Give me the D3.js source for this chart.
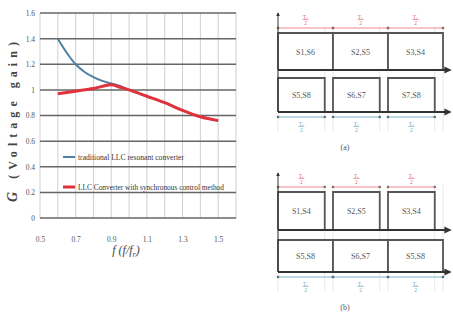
<!DOCTYPE html>
<html>
<head>
<meta charset="utf-8">
<script src="https://cdn.jsdelivr.net/npm/d3@7"></script>
<style>
  body { margin: 0; background: #fff; }
</style>
</head>
<body>
<div id="chart"></div>
<script>
// ---- gain curve data ----
const freqTicks = [0.5, 0.7, 0.9, 1.1, 1.3, 1.5];
const gainTicks = [0, 0.2, 0.4, 0.6, 0.8, 1, 1.2, 1.4, 1.6];

const freqTrad = [0.6, 0.65, 0.7, 0.75, 0.8, 0.85, 0.9, 0.95, 1.0, 1.1, 1.2, 1.3, 1.4, 1.5];
const gainTrad = [1.40, 1.29, 1.20, 1.14, 1.10, 1.07, 1.05, 1.03, 1.00, 0.95, 0.90, 0.84, 0.79, 0.76];

const freqSync = [0.6, 0.7, 0.8, 0.9, 0.95, 1.0, 1.1, 1.2, 1.3, 1.4, 1.5];
const gainSync = [0.97, 0.99, 1.01, 1.04, 1.02, 1.00, 0.95, 0.90, 0.84, 0.79, 0.76];

const seriesNames = ["traditional LLC resonant converter", "LLC Converter with synchronous control method"];

// ---- timing diagram data ----
const slotStarts = [0, 1, 2];       // in units of Ts/2
const fullLen = 1;
const shortLen = 0.85;
const labelsATop = ["S1,S6", "S2,S5", "S3,S4"];
const labelsABot = ["S5,S8", "S6,S7", "S7,S8"];
const labelsBTop = ["S1,S4", "S2,S5", "S3,S4"];
const labelsBBot = ["S5,S8", "S6,S7", "S5,S8"];
const panelNames = ["(a)", "(b)"];

const W = 453, H = 320;
const svg = d3.select("#chart").append("svg")
    .attr("width", W)
    .attr("height", H)
    .style("font-family", "'Liberation Serif', serif");

// ================= left chart =================
const x = d3.scaleLinear().domain([0.5, 1.6]).range([40, 236]);
const y = d3.scaleLinear().domain([0, 1.6]).range([218, 13]);

const grid = svg.append("g");
grid.selectAll("line.v")
    .data(x.ticks(11))
    .enter().append("line")
    .attr("x1", d => x(d)).attr("x2", d => x(d))
    .attr("y1", y(1.6)).attr("y2", y(0))
    .attr("stroke", "#cfcfcf").attr("stroke-width", 1);
grid.selectAll("line.h")
    .data(gainTicks)
    .enter().append("line")
    .attr("x1", x(0.5)).attr("x2", x(1.6))
    .attr("y1", d => y(d)).attr("y2", d => y(d))
    .attr("stroke", "#666").attr("stroke-width", 1.5);

const yAxis = svg.append("g")
    .attr("transform", "translate(40,0)")
    .call(d3.axisLeft(y).tickValues(gainTicks).tickFormat(d3.format("")).tickSize(0).tickPadding(5));
yAxis.select(".domain").remove();
yAxis.selectAll("text").attr("fill", "#555").style("font-size", "7.5px")
    .style("font-family", "'Liberation Serif', serif");

const xAxis = svg.append("g")
    .attr("transform", "translate(0,218)")
    .call(d3.axisBottom(x).tickValues(freqTicks).tickFormat(d3.format("")).tickSize(0).tickPadding(19));
xAxis.select(".domain").remove();
xAxis.selectAll("text").attr("fill", "#555").style("font-size", "7.5px")
    .style("font-family", "'Liberation Serif', serif");

const line = d3.line()
    .x(d => x(d[0]))
    .y(d => y(d[1]))
    .curve(d3.curveMonotoneX);

svg.append("path")
    .datum(d3.zip(freqTrad, gainTrad))
    .attr("d", line)
    .attr("fill", "none")
    .attr("stroke", "#4f7fa3")
    .attr("stroke-width", 2);
svg.append("path")
    .datum(d3.zip(freqSync, gainSync))
    .attr("d", line)
    .attr("fill", "none")
    .attr("stroke", "#e0313c")
    .attr("stroke-width", 3);

// legend
const legend = svg.append("g");
const legColors = ["#4f7fa3", "#e0313c"];
const legWidths = [2, 3];
const legY = [157, 187];
const legLen = [106, 146];
seriesNames.forEach((name, i) => {
    legend.append("line")
        .attr("x1", 63).attr("x2", 75)
        .attr("y1", legY[i]).attr("y2", legY[i])
        .attr("stroke", legColors[i]).attr("stroke-width", legWidths[i]);
    legend.append("text")
        .attr("x", 78).attr("y", legY[i] + 2.5)
        .attr("textLength", legLen[i])
        .attr("lengthAdjust", "spacingAndGlyphs")
        .attr("fill", "#333")
        .style("font-size", "7.5px")
        .text(name);
});

// axis titles
const yTitle = svg.append("text")
    .attr("transform", "translate(17,122) rotate(-90)")
    .attr("text-anchor", "middle")
    .attr("textLength", 160)
    .attr("fill", "#444")
    .style("font-size", "12px")
    .style("font-weight", "bold");
yTitle.append("tspan").style("font-style", "italic").style("font-size", "14px").text("G");
yTitle.append("tspan").text(" (Voltage gain)");

const xTitle = svg.append("text")
    .attr("x", 126).attr("y", 254)
    .attr("text-anchor", "middle")
    .attr("fill", "#444")
    .style("font-size", "12px")
    .style("font-style", "italic");
xTitle.append("tspan").text("f (f/f");
xTitle.append("tspan").attr("dy", 3).style("font-size", "8px").text("r");
xTitle.append("tspan").attr("dy", -3).text(")");

// ================= timing diagrams =================
const t = d3.scaleLinear().domain([0, 3]).range([278, 443]);
const tEnd = 3.13;

const defs = svg.append("defs");
defs.append("marker")
    .attr("id", "arr")
    .attr("viewBox", "0 0 10 10")
    .attr("refX", 8).attr("refY", 5)
    .attr("markerWidth", 4).attr("markerHeight", 4)
    .attr("orient", "auto-start-reverse")
    .append("path").attr("d", "M0,0 L10,5 L0,10 z").attr("fill", "#333");

const panels = [
    { top: labelsATop, bot: labelsABot, topLen: fullLen, botLen: shortLen,
      yArrow: 13, yDimTop: 28, yTop1: 33, yAx1: 70, yTop2: 78, yAx2: 112, yDimBot: 117, yCap: 150 },
    { top: labelsBTop, bot: labelsBBot, topLen: shortLen, botLen: fullLen,
      yArrow: 173, yDimTop: 187, yTop1: 192, yAx1: 230, yTop2: 240, yAx2: 272, yDimBot: 277, yCap: 310 }
];

function fraction(g, cx, yTop, color) {
    g.append("text").attr("x", cx).attr("y", yTop + 4.5)
        .attr("text-anchor", "middle").attr("fill", color)
        .style("font-size", "5.5px").text("T\u209B");
    g.append("line").attr("x1", cx - 3).attr("x2", cx + 3)
        .attr("y1", yTop + 5.5).attr("y2", yTop + 5.5)
        .attr("stroke", color).attr("stroke-width", 0.6);
    g.append("text").attr("x", cx).attr("y", yTop + 10.5)
        .attr("text-anchor", "middle").attr("fill", color)
        .style("font-size", "5.5px").text("2");
}

panels.forEach((p, pi) => {
    const g = svg.append("g");

    // faint guide lines at slot edges
    const edges = [];
    slotStarts.forEach(s => { edges.push(s); edges.push(s + shortLen); });
    edges.push(3);
    g.selectAll("line.guide")
        .data(edges)
        .enter().append("line")
        .attr("x1", d => t(d)).attr("x2", d => t(d))
        .attr("y1", p.yDimTop - 2).attr("y2", p.yDimBot + 14)
        .attr("stroke", "#dcdcdc").attr("stroke-width", 0.7);

    // top dimension (red)
    slotStarts.forEach(s => {
        g.append("line")
            .attr("x1", t(s)).attr("x2", t(s + p.topLen))
            .attr("y1", p.yDimTop).attr("y2", p.yDimTop)
            .attr("stroke", "#ef8a8f").attr("stroke-width", 1.2);
        [s, s + p.topLen].forEach(e => g.append("circle")
            .attr("cx", t(e)).attr("cy", p.yDimTop).attr("r", 1.3).attr("fill", "#8a6a6a"));
        fraction(g, t(s + p.topLen / 2), p.yDimTop - 14, "#e06a70");
    });

    // boxes row 1 and row 2
    const rows = [
        { labels: p.top, len: p.topLen, yTop: p.yTop1, yAx: p.yAx1 },
        { labels: p.bot, len: p.botLen, yTop: p.yTop2, yAx: p.yAx2 }
    ];
    rows.forEach(r => {
        g.selectAll(null)
            .data(slotStarts)
            .enter().append("path")
            .attr("d", s => `M${t(s)},${r.yAx} V${r.yTop} H${t(s + r.len)} V${r.yAx}`)
            .attr("fill", "#fff")
            .attr("stroke", "#555")
            .attr("stroke-width", 1.8);
        g.selectAll(null)
            .data(slotStarts)
            .enter().append("text")
            .attr("x", (s, i) => t(s + r.len / 2))
            .attr("y", (r.yTop + r.yAx) / 2 + 3)
            .attr("text-anchor", "middle")
            .attr("fill", "#555")
            .style("font-size", "8px")
            .text((s, i) => r.labels[i]);
        g.append("line")
            .attr("x1", t(0)).attr("x2", t(tEnd))
            .attr("y1", r.yAx).attr("y2", r.yAx)
            .attr("stroke", "#333").attr("stroke-width", 1.8)
            .attr("marker-end", "url(#arr)");
    });

    // vertical axis
    g.append("line")
        .attr("x1", t(0)).attr("x2", t(0))
        .attr("y1", p.yAx2).attr("y2", p.yArrow)
        .attr("stroke", "#333").attr("stroke-width", 1)
        .attr("marker-end", "url(#arr)");

    // bottom dimension (blue)
    slotStarts.forEach(s => {
        g.append("line")
            .attr("x1", t(s)).attr("x2", t(s + p.botLen))
            .attr("y1", p.yDimBot).attr("y2", p.yDimBot)
            .attr("stroke", "#7fb3c8").attr("stroke-width", 1.2);
        [s, s + p.botLen].forEach(e => g.append("circle")
            .attr("cx", t(e)).attr("cy", p.yDimBot).attr("r", 1.3).attr("fill", "#5a6f78"));
        fraction(g, t(s + p.botLen / 2), p.yDimBot + 4, "#6aaac4");
    });

    // caption
    g.append("text")
        .attr("x", 345).attr("y", p.yCap)
        .attr("text-anchor", "middle")
        .attr("fill", "#555")
        .style("font-size", "8px")
        .text(panelNames[pi]);
});
</script>
</body>
</html>
